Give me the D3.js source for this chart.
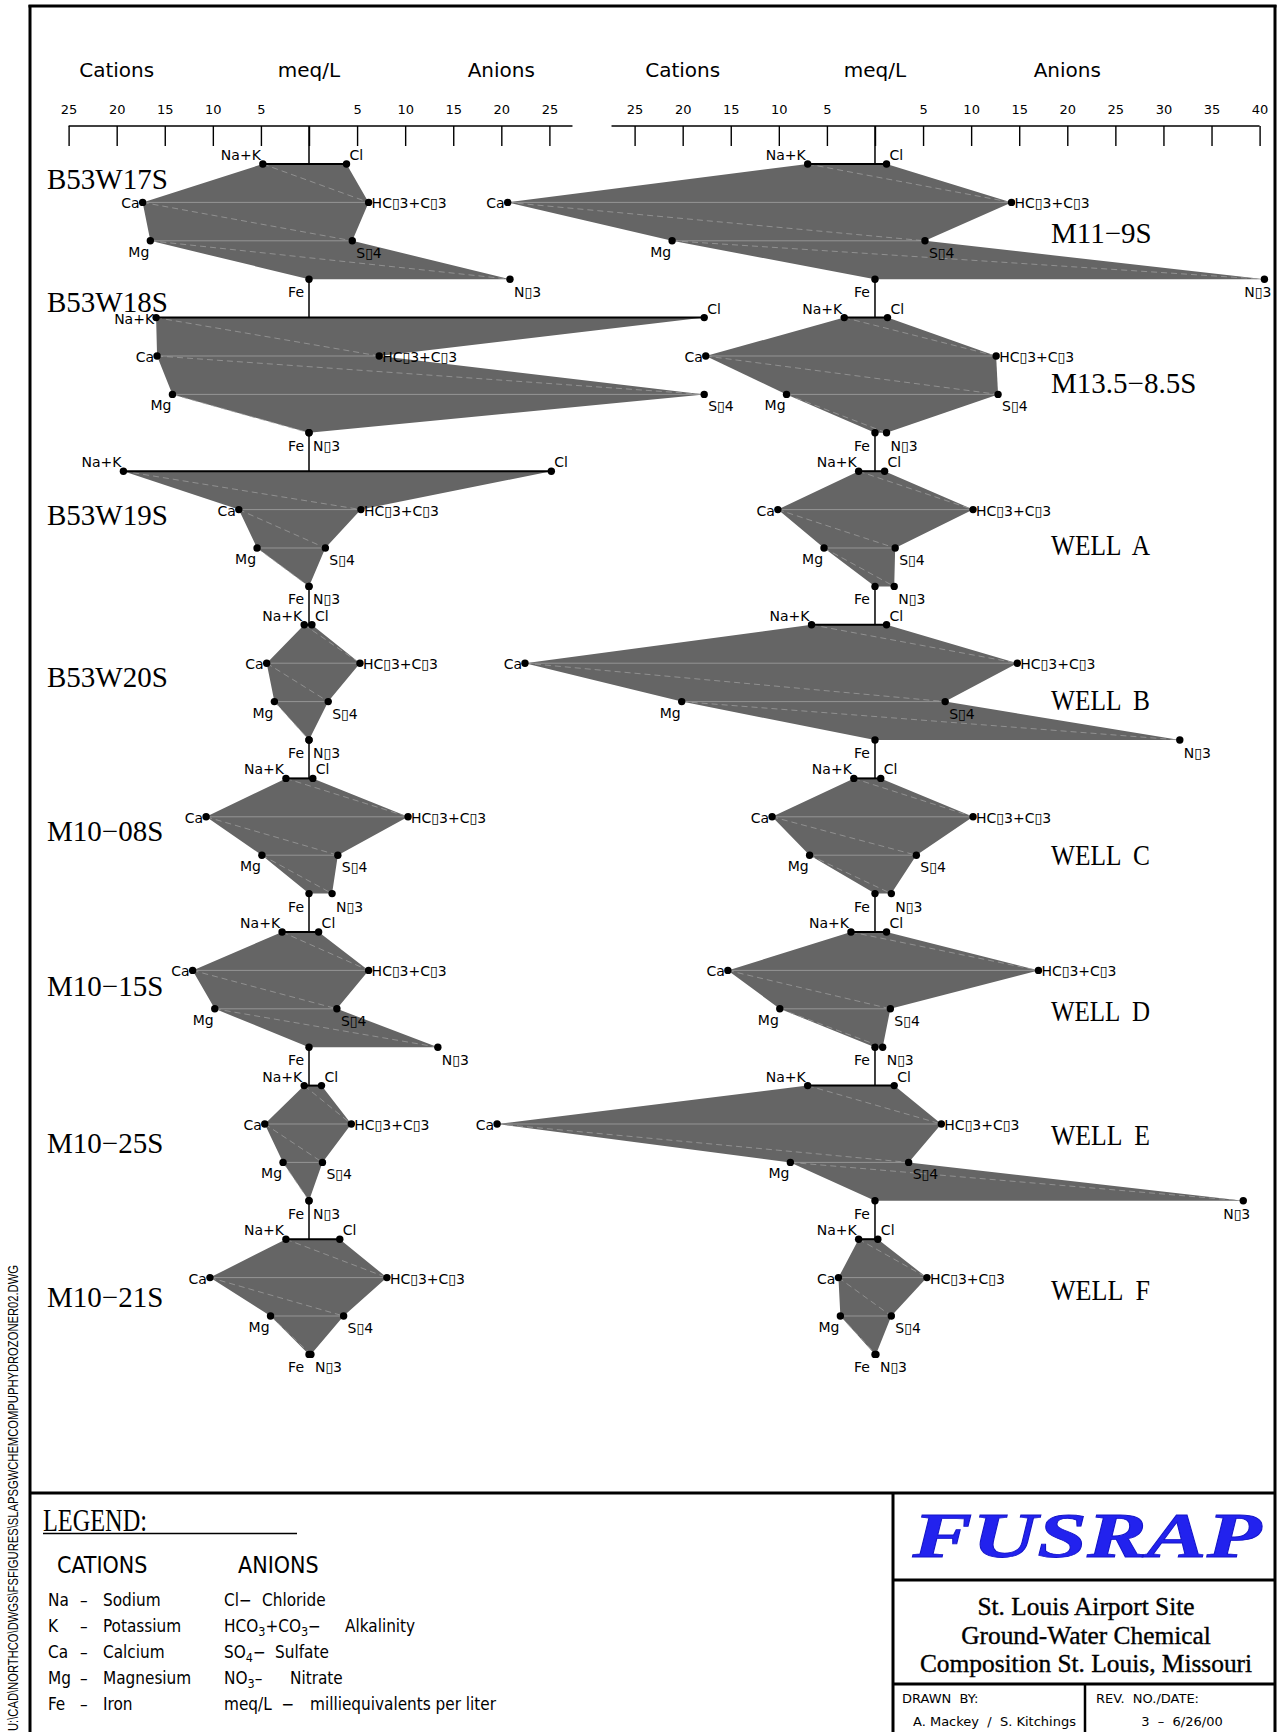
<!DOCTYPE html>
<html>
<head>
<meta charset="utf-8">
<script src="https://cdn.jsdelivr.net/npm/d3@7"></script>
<style>
  body { margin: 0; background: #fff; }
  svg { display: block; }
  text { font-family: "DejaVu Sans", sans-serif; fill: #000; }
  .cond { font-family: "DejaVu Sans Condensed", "DejaVu Sans", sans-serif; font-stretch: condensed; }
</style>
</head>
<body>
<div id="vis"></div>
<script>

// ion names, top row to bottom row of every stiff diagram
var cationNames = ["Na+K", "Ca", "Mg", "Fe"];
var anionNames = ["Cl", "HC\u25AF3+C\u25AF3", "S\u25AF4", "N\u25AF3"];

// left column of wells (meq/L)
var leftWells = ["B53W17S", "B53W18S", "B53W19S", "B53W20S",
                 "M10\u221208S", "M10\u221215S", "M10\u221225S", "M10\u221221S"];
var leftCations = [
  [4.8, 17.3, 16.5, 0],
  [15.9, 15.8, 14.2, 0],
  [19.3, 7.3, 5.4, 0],
  [0.5, 4.4, 3.6, 0],
  [2.4, 10.7, 4.9, 0],
  [2.8, 12.1, 9.8, 0],
  [0.5, 4.6, 2.7, 0],
  [2.4, 10.3, 4.0, 0]
];
var leftAnions = [
  [3.9, 6.2, 4.5, 20.9],
  [41.1, 7.3, 41.1, 0],
  [25.2, 5.4, 1.7, 0],
  [0.3, 5.3, 2.0, 0],
  [0.4, 10.3, 3.0, 2.4],
  [1.0, 6.2, 2.9, 13.4],
  [1.3, 4.4, 1.4, 0],
  [3.2, 8.1, 3.6, 0.2]
];

// right column of wells (meq/L)
var rightWells = ["M11\u22129S", "M13.5\u22128.5S", "WELL  A", "WELL  B",
                  "WELL  C", "WELL  D", "WELL  E", "WELL  F"];
var rightCations = [
  [7.0, 38.2, 21.1, 0],
  [3.2, 17.6, 9.2, 0],
  [1.7, 10.1, 5.3, 0],
  [6.6, 36.4, 20.1, 0],
  [2.2, 10.7, 6.8, 0],
  [2.5, 15.3, 9.9, 0],
  [7.0, 39.3, 8.8, 0],
  [1.7, 3.8, 3.6, 0]
];
var rightAnions = [
  [1.2, 14.2, 5.2, 40.5],
  [1.3, 12.6, 12.8, 1.2],
  [1.0, 10.2, 2.1, 2.0],
  [1.2, 14.8, 7.3, 31.7],
  [0.6, 10.2, 4.3, 1.7],
  [1.2, 17.0, 1.6, 0.8],
  [2.0, 6.9, 3.5, 38.3],
  [0.3, 5.4, 1.7, 0.1]
];

// axis ticks (negative = cation side)
var leftTicks = [-25, -20, -15, -10, -5, 0, 5, 10, 15, 20, 25];
var rightTicks = [-25, -20, -15, -10, -5, 0, 5, 10, 15, 20, 25, 30, 35, 40];

// legend text
var legendCations = [["Na", "Sodium"], ["K", "Potassium"], ["Ca", "Calcium"], ["Mg", "Magnesium"], ["Fe", "Iron"]];

// layout only: baseline offset of each well name from the top row
var leftNameDy = [25, -6, 54, 62, 63, 64, 67, 68];
var rightNameDy = [79, 75, 84, 85, 87, 89, 59, 61];
// layout only: Na+K label offset (B53W18S label sits beside its dot)
var leftNaDy = [-4, 6.5, -4, -4, -4, -4, -4, -4];
var rightNaDy = [-4, -4, -4, -4, -4, -4, -4, -4];

var width = 1278, height = 1732;
var axisY = 126;
var fill = "#656565";

var svg = d3.select("#vis").append("svg")
  .attr("width", width)
  .attr("height", height);

svg.append("rect").attr("width", width).attr("height", height).attr("fill", "#fff");

// meq/L scales, same unit size on both panels
var xLeft = d3.scaleLinear().domain([-25, 25]).range([68.6, 549.4]);
var xRight = d3.scaleLinear().domain([-25, 40]).range([634.6, 1259.6]);

// row positions: 4 rows per well, one empty row between wells
var rowY = d3.scaleLinear().domain([0, 1]).range([164, 202.4]);

function drawAxis(x, ticks, lo, hi) {
  var g = svg.append("g").attr("transform", "translate(0," + axisY + ")");
  g.call(d3.axisTop(x)
    .tickValues(ticks)
    .tickSize(-20)
    .tickPadding(12)
    .tickFormat(function(d) { return d === 0 ? "" : Math.abs(d); }));
  g.select(".domain").remove();
  g.selectAll(".tick line").attr("stroke", "#000").attr("stroke-width", 1.4);
  g.selectAll(".tick text")
    .attr("fill", "#000")
    .style("font-family", "'DejaVu Sans'")
    .style("font-size", "13px");
  g.append("line")
    .attr("x1", x(lo)).attr("x2", x(hi))
    .attr("stroke", "#000").attr("stroke-width", 1.6);

  var heads = [["Cations", -20], ["meq/L", 0], ["Anions", 20]];
  heads.forEach(function(h) {
    svg.append("text")
      .attr("x", x(h[1])).attr("y", 77)
      .attr("text-anchor", "middle")
      .style("font-size", "20px")
      .text(h[0]);
  });
}

function drawPanel(x, wells, cats, ans, nameX, nameDy, naDy) {
  var g = svg.append("g");
  var c = x(0);

  // spine running through all diagrams
  g.append("line")
    .attr("x1", c).attr("x2", c)
    .attr("y1", axisY).attr("y2", rowY(wells.length * 4 - 1))
    .attr("stroke", "#000").attr("stroke-width", 1.5);

  var line = d3.line().curve(d3.curveLinearClosed);

  wells.forEach(function(name, i) {
    var left = cats[i].map(function(v, j) { return [x(-v), rowY(i * 4 + j)]; });
    var right = ans[i].map(function(v, j) { return [x(v), rowY(i * 4 + j)]; });
    var poly = left.concat(right.slice().reverse());

    g.append("path").attr("d", line(poly)).attr("fill", fill);

    // light fill seams
    [1, 2].forEach(function(j) {
      g.append("line")
        .attr("x1", left[j][0]).attr("y1", left[j][1])
        .attr("x2", right[j][0]).attr("y2", right[j][1])
        .attr("stroke", "#9a9a9a").attr("stroke-width", 0.9);
    });
    [0, 1, 2].forEach(function(j) {
      g.append("line")
        .attr("x1", left[j][0]).attr("y1", left[j][1])
        .attr("x2", right[j + 1][0]).attr("y2", right[j + 1][1])
        .attr("stroke", "#a2a2a2").attr("stroke-width", 0.7)
        .attr("stroke-dasharray", "6,4");
    });

    // top edge
    g.append("line")
      .attr("x1", left[0][0]).attr("y1", left[0][1])
      .attr("x2", right[0][0]).attr("y2", right[0][1])
      .attr("stroke", "#000").attr("stroke-width", 2);

    g.selectAll(null)
      .data(poly)
      .enter()
      .append("circle")
      .attr("cx", function(d) { return d[0]; })
      .attr("cy", function(d) { return d[1]; })
      .attr("r", 3.7)
      .attr("fill", "#000");

    // ion labels
    var lab = function(tx, ty, anchor, txt) {
      g.append("text")
        .attr("x", tx).attr("y", ty)
        .attr("text-anchor", anchor)
        .style("font-size", "14px")
        .text(txt);
    };
    lab(left[0][0] - 2, left[0][1] + naDy[i], "end", cationNames[0]);
    lab(right[0][0] + 3, right[0][1] - 4, "start", anionNames[0]);
    lab(left[1][0] - 3, left[1][1] + 6, "end", cationNames[1]);
    lab(right[1][0] + 3, right[1][1] + 6, "start", anionNames[1]);
    lab(left[2][0] - 1, left[2][1] + 16, "end", cationNames[2]);
    lab(right[2][0] + 4, right[2][1] + 17, "start", anionNames[2]);
    lab(Math.min(left[3][0], c) - 5, left[3][1] + 18, "end", cationNames[3]);
    if (right[3][0] > 1225) {
      // too close to the border: tuck the label under the dot
      lab(right[3][0] + 7, right[3][1] + 18, "end", anionNames[3]);
    } else {
      lab(Math.max(right[3][0], c) + 4, right[3][1] + 18, "start", anionNames[3]);
    }

    // well name
    var t = g.append("text")
      .attr("x", nameX)
      .attr("y", rowY(i * 4) + nameDy[i])
      .style("font-family", "'Liberation Serif', serif")
      .style("font-size", "29px")
      .style("white-space", "pre")
      .text(name);
    if (name.indexOf("WELL") === 0) {
      t.attr("textLength", 99).attr("lengthAdjust", "spacingAndGlyphs");
    }
  });
}

drawAxis(xLeft, leftTicks, -25, 27.4);
drawAxis(xRight, rightTicks, -27.4, 40);
drawPanel(xLeft, leftWells, leftCations, leftAnions, 47, leftNameDy, leftNaDy);
drawPanel(xRight, rightWells, rightCations, rightAnions, 1051, rightNameDy, rightNaDy);

// drawing frame
var frame = [
  [28.5, 6, 1276.5, 6, 3],
  [30, 5, 30, height, 3],
  [1275, 5, 1275, height, 3],
  [30, 1493, 1275, 1493, 3],
  [893, 1493, 893, height, 3],
  [893, 1580, 1275, 1580, 3],
  [893, 1684, 1275, 1684, 3],
  [1085, 1684, 1085, height, 2.5]
];
svg.selectAll(null)
  .data(frame)
  .enter()
  .append("line")
  .attr("x1", function(d) { return d[0]; })
  .attr("y1", function(d) { return d[1]; })
  .attr("x2", function(d) { return d[2]; })
  .attr("y2", function(d) { return d[3]; })
  .attr("stroke", "#000")
  .attr("stroke-width", function(d) { return d[4]; });

// file path along the left edge
svg.append("text")
  .attr("transform", "translate(18,1731) rotate(-90)")
  .attr("textLength", 466)
  .attr("lengthAdjust", "spacingAndGlyphs")
  .style("font-family", "'Liberation Sans'")
  .style("font-size", "15px")
  .text("U:\\CAD\\NORTHCO\\DWGS\\FSFIGURES\\SLAPSGWCHEMCOMPUPHYDROZONER02.DWG");

// legend
svg.append("text")
  .attr("x", 43).attr("y", 1531)
  .attr("textLength", 104)
  .attr("lengthAdjust", "spacingAndGlyphs")
  .style("font-family", "'Liberation Serif', serif")
  .style("font-size", "31px")
  .text("LEGEND:");
svg.append("line")
  .attr("x1", 43).attr("x2", 297).attr("y1", 1533.5).attr("y2", 1533.5)
  .attr("stroke", "#000").attr("stroke-width", 1.5);

var lg = svg.append("g");
lg.append("text").attr("class", "cond").attr("x", 57).attr("y", 1573).style("font-size", "23px").text("CATIONS");
lg.append("text").attr("class", "cond").attr("x", 238).attr("y", 1573).style("font-size", "23px").text("ANIONS");

legendCations.forEach(function(d, i) {
  var y = 1606 + i * 26;
  lg.append("text").attr("class", "cond").attr("x", 48).attr("y", y).style("font-size", "17px").text(d[0]);
  lg.append("text").attr("class", "cond").attr("x", 80).attr("y", y).style("font-size", "17px").text("\u2013");
  lg.append("text").attr("class", "cond").attr("x", 103).attr("y", y).style("font-size", "17px").text(d[1]);
});

function anionRow(i, parts, descX, desc) {
  var y = 1606 + i * 26;
  var t = lg.append("text").attr("class", "cond").attr("x", 224).attr("y", y)
    .style("font-size", "17px").style("white-space", "pre");
  parts.forEach(function(p) {
    var s = t.append("tspan").text(p.t);
    if (p.sub) s.attr("dy", 4).style("font-size", "12.5px");
    if (p.up) s.attr("dy", -4);
  });
  lg.append("text").attr("class", "cond").attr("x", descX).attr("y", y)
    .style("font-size", "17px").text(desc);
}
anionRow(0, [{t: "Cl\u2212"}], 262, "Chloride");
anionRow(1, [{t: "HCO"}, {t: "3", sub: true}, {t: "+CO", up: true}, {t: "3", sub: true}, {t: "\u2212", up: true}], 345, "Alkalinity");
anionRow(2, [{t: "SO"}, {t: "4", sub: true}, {t: "\u2212", up: true}], 275, "Sulfate");
anionRow(3, [{t: "NO"}, {t: "3", sub: true}, {t: "\u2013", up: true}], 290, "Nitrate");
anionRow(4, [{t: "meq/L  \u2212"}], 310, "milliequivalents  per  liter");

// title block
svg.append("text")
  .attr("x", 1087).attr("y", 1557)
  .attr("text-anchor", "middle")
  .attr("textLength", 349)
  .attr("lengthAdjust", "spacingAndGlyphs")
  .style("font-family", "'Liberation Serif', serif")
  .style("font-weight", "bold")
  .style("font-style", "italic")
  .style("font-size", "64px")
  .style("fill", "#2222ee")
  .style("stroke", "#1414c8")
  .style("stroke-width", 0.8)
  .text("FUSRAP");

var titleLines = ["St. Louis Airport Site", "Ground-Water Chemical", "Composition St. Louis, Missouri"];
titleLines.forEach(function(t, i) {
  svg.append("text")
    .attr("x", 1086).attr("y", 1615 + i * 28.6)
    .attr("text-anchor", "middle")
    .style("font-family", "'Liberation Serif', serif")
    .style("font-size", "25.4px")
    .style("stroke", "#000")
    .style("stroke-width", 0.35)
    .text(t);
});

var small = [
  [902, 1703, "start", "DRAWN  BY:"],
  [913, 1726, "start", "A. Mackey  /  S. Kitchings"],
  [1096, 1703, "start", "REV.  NO./DATE:"],
  [1182, 1726, "middle", "3  \u2013  6/26/00"]
];
small.forEach(function(d) {
  svg.append("text")
    .attr("x", d[0]).attr("y", d[1])
    .attr("text-anchor", d[2])
    .style("font-size", "13px")
    .style("white-space", "pre")
    .text(d[3]);
});

</script>
</body>
</html>
